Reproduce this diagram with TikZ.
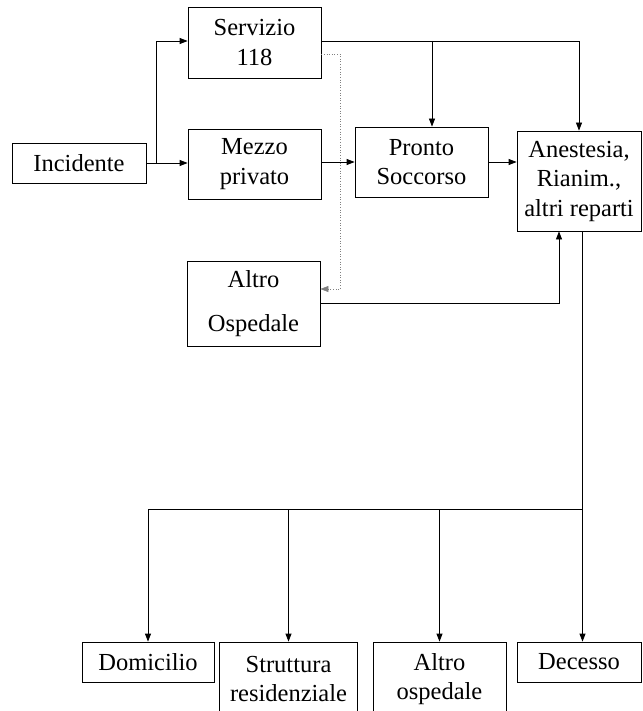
\documentclass[tikz,border=0pt]{standalone}
\usepackage{fontspec}
\setmainfont{Liberation Serif}
\usetikzlibrary{arrows.meta}
\begin{document}
\begin{tikzpicture}[x=1pt,y=-1pt,
  box/.style={draw, line width=0.8pt, inner sep=0pt, align=center, anchor=center,
    font=\fontsize{24.5}{29.5}\selectfont},
  conn/.style={line width=0.8pt},
  arr/.style={conn, -{Triangle[length=8pt,width=6pt]}},
  dotarr/.style={line width=0.6pt, gray, dotted, -{Triangle[length=8pt,width=6pt]}}]
\useasboundingbox (0,0) rectangle (642,711);
\node[box, minimum width=134pt, minimum height=40pt] (inc) at (79,163) {Incidente};
\node[box, minimum width=133pt, minimum height=71pt] (serv) at (254.5,42.5) {Servizio\\118};
\node[box, minimum width=133pt, minimum height=70pt] (mezzo) at (254.5,164) {Mezzo\\privato};
\node[box, minimum width=133pt, minimum height=70pt] (pronto) at (421.5,162) {Pronto\\Soccorso};
\node[box, minimum width=124pt, minimum height=100pt] (anest) at (579,181) {Anestesia,\\Rianim.,\\altri reparti};
\node[box, minimum width=133pt, minimum height=85pt] (altro) at (253.5,303.5) {Altro\\[15pt]Ospedale};
\node[box, minimum width=132pt, minimum height=40pt] (dom) at (148,662) {Domicilio};
\node[box, minimum width=138pt, minimum height=74pt] (strut) at (288.5,679) {Struttura\\residenziale};
\node[box, minimum width=133pt, minimum height=74pt] (altrob) at (439.5,679) {Altro\\ospedale};
\node[box, minimum width=124pt, minimum height=40pt] (dec) at (579,662) {Decesso};

\coordinate (j1) at (156,163);
\coordinate (b1) at (432,41);
\coordinate (d1) at (340,289);
\coordinate (h) at (582.5,509);

\draw[arr] (inc.east) -- (inc.east -| mezzo.west);
\draw[arr] (j1) |- ([yshift=1.5pt]serv.west);
\draw[arr] ([yshift=1.5pt]serv.east) -| (anest.north);
\draw[arr] (b1) -- (b1 |- pronto.north);
\draw[dotarr] ([yshift=-11.5pt]serv.east) -| (d1) -- (d1 -| altro.east);
\draw[arr] (mezzo.east |- pronto.west) -- (pronto.west);
\draw[arr] (pronto.east) -- (pronto.east -| anest.west);
\draw[arr] (altro.east) -| ([xshift=-20pt]anest.south);
\draw[arr] ([xshift=3.5pt]anest.south) -- ([xshift=3.5pt]anest.south |- dec.north);
\draw[conn] (h) -- (h -| dom.north);
\draw[arr] (h -| dom.north) -- (dom.north);
\draw[arr] (h -| strut.north) -- (strut.north);
\draw[arr] (h -| altrob.north) -- (altrob.north);
\end{tikzpicture}
\end{document}
